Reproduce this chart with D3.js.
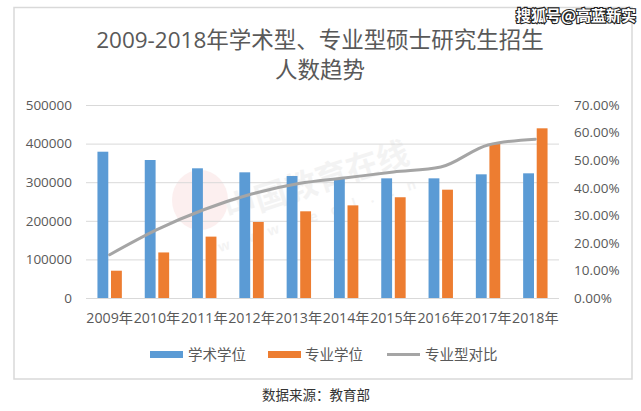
<!DOCTYPE html>
<html><head><meta charset="utf-8">
<script src="https://cdn.jsdelivr.net/npm/d3@7"></script>
<style>
html,body{margin:0;padding:0;background:#fff;}
svg{display:block;font-family:"Open Sans","Noto Sans CJK SC",sans-serif;}
</style></head>
<body>
<svg id="c" width="641" height="411"></svg>
<script>
const categories = ["2009年","2010年","2011年","2012年","2013年","2014年","2015年","2016年","2017年","2018年"];
const academic = [379000,357500,336000,325600,316000,310000,310000,310000,320400,323000];
const professional = [70700,118000,159000,197000,224600,240000,261000,280600,399000,439600];
const ratio = [0.157,0.248,0.321,0.377,0.415,0.436,0.457,0.475,0.555,0.576];
const leftTicks = [0,100000,200000,300000,400000,500000];
const rightTicks = [0,0.1,0.2,0.3,0.4,0.5,0.6,0.7];
const seriesNames = ["学术学位","专业学位","专业型对比"];
const colors = ["#5b9bd5","#ed7d31","#a5a5a5"];

const svg = d3.select("#c");
const fontStack = '"Open Sans","Noto Sans CJK SC",sans-serif';
const cjk = '"Noto Sans CJK SC",sans-serif';

// outer chart frame
svg.append("rect").attr("x",14).attr("y",7.5).attr("width",618).attr("height",371.5)
  .attr("fill","#fff").attr("stroke","#d9d9d9").attr("stroke-width",1.5);

const L = 86, R = 559, T = 105, B = 298;
const x0 = d3.scaleBand().domain(categories).range([L,R]).padding(0);
const yL = d3.scaleLinear().domain([0,500000]).range([B,T]);
const yR = d3.scaleLinear().domain([0,0.7]).range([B,T]);

// faint watermark
const wm = svg.append("g").attr("opacity",0.09);
wm.append("ellipse").attr("cx",200).attr("cy",200).attr("rx",28).attr("ry",30).attr("fill","#e35b5b");
wm.append("text").attr("x",320).attr("y",192).attr("transform","rotate(-18,320,192)")
  .attr("font-family",cjk).attr("font-size",32).attr("font-weight","bold").attr("fill","#888")
  .attr("text-anchor","middle").text("中国教育在线");
wm.append("text").attr("x",325).attr("y",218).attr("transform","rotate(-18,325,218)")
  .attr("font-family",fontStack).attr("font-size",14).attr("font-weight","bold").attr("fill","#888")
  .attr("text-anchor","middle").attr("letter-spacing",14).text("www.eol.cn");

// gridlines
svg.append("g").selectAll("line").data(leftTicks).join("line")
  .attr("x1",L).attr("x2",R).attr("y1",d=>yL(d)+0.5).attr("y2",d=>yL(d)+0.5)
  .attr("stroke","#d9d9d9").attr("stroke-width",1);

// left axis
const axL = svg.append("g").attr("transform",`translate(${L},0)`)
  .call(d3.axisLeft(yL).tickValues(leftTicks).tickFormat(d3.format("d")).tickSize(0).tickPadding(14));
axL.select(".domain").remove();
axL.selectAll("text").attr("font-family",fontStack).attr("font-size",13.5).attr("fill","#595959");

// right axis
const axR = svg.append("g").attr("transform",`translate(${R},0)`)
  .call(d3.axisRight(yR).tickValues(rightTicks).tickFormat(d3.format(".2%")).tickSize(0).tickPadding(15));
axR.select(".domain").remove();
axR.selectAll("text").attr("font-family",fontStack).attr("font-size",13.5).attr("fill","#595959");

// bottom axis
const axB = svg.append("g").attr("transform",`translate(0,${B})`)
  .call(d3.axisBottom(x0).tickSize(0).tickPadding(15));
axB.select(".domain").remove();
axB.selectAll("text").attr("font-family",fontStack).attr("font-size",14.2).attr("fill","#595959");

// bars
const x1 = d3.scaleBand().domain([0,1]).range([-12.2,12.2]).paddingInner(0.2).paddingOuter(0);
const bars = svg.append("g");
[academic, professional].forEach((arr,si)=>{
  bars.selectAll(null).data(arr).join("rect")
    .attr("x",(d,i)=>x0(categories[i]) + x0.bandwidth()/2 + x1(si))
    .attr("width",x1.bandwidth())
    .attr("y",d=>yL(d)).attr("height",d=>B-yL(d))
    .attr("fill",colors[si]);
});

// line
const line = d3.line()
  .x((d,i)=>x0(categories[i]) + x0.bandwidth()/2)
  .y(d=>yR(d))
  .curve(d3.curveMonotoneX);
svg.append("path").datum(ratio).attr("d",line)
  .attr("fill","none").attr("stroke",colors[2]).attr("stroke-width",3).attr("stroke-linecap","round");

// title
const title = svg.append("text").attr("text-anchor","middle").attr("font-family",fontStack)
  .attr("font-size",22.5).attr("fill","#595959");
title.append("tspan").attr("x",320).attr("y",48).text("2009-2018年学术型、专业型硕士研究生招生");
title.append("tspan").attr("x",320).attr("y",78).text("人数趋势");

// legend
const lg = svg.append("g");
const legendItems = [
  {x:150, tx:188, type:"rect"},
  {x:268, tx:305, type:"rect"},
  {x:387, tx:425, type:"line"}
];
legendItems.forEach((it,i)=>{
  if(it.type==="rect"){
    lg.append("rect").attr("x",it.x).attr("y",351).attr("width",33).attr("height",7).attr("fill",colors[i]);
  } else {
    lg.append("line").attr("x1",it.x).attr("x2",it.x+33).attr("y1",354.5).attr("y2",354.5)
      .attr("stroke",colors[i]).attr("stroke-width",3);
  }
  lg.append("text").attr("x",it.tx).attr("y",360).attr("font-family",cjk).attr("font-size",14.5)
    .attr("fill","#595959").text(seriesNames[i]);
});

// source
svg.append("text").attr("x",316).attr("y",400).attr("text-anchor","middle")
  .attr("font-family",cjk).attr("font-size",13.5).attr("fill","#333").text("数据来源：教育部");

// site watermark top right
svg.append("text").attr("x",636).attr("y",21).attr("text-anchor","end")
  .attr("font-family",cjk).attr("font-size",15).attr("font-weight","bold")
  .attr("fill","#fff").attr("stroke","#222").attr("stroke-width",2.2).attr("paint-order","stroke")
  .text("搜狐号@高蓝新实");
</script>
</body></html>
